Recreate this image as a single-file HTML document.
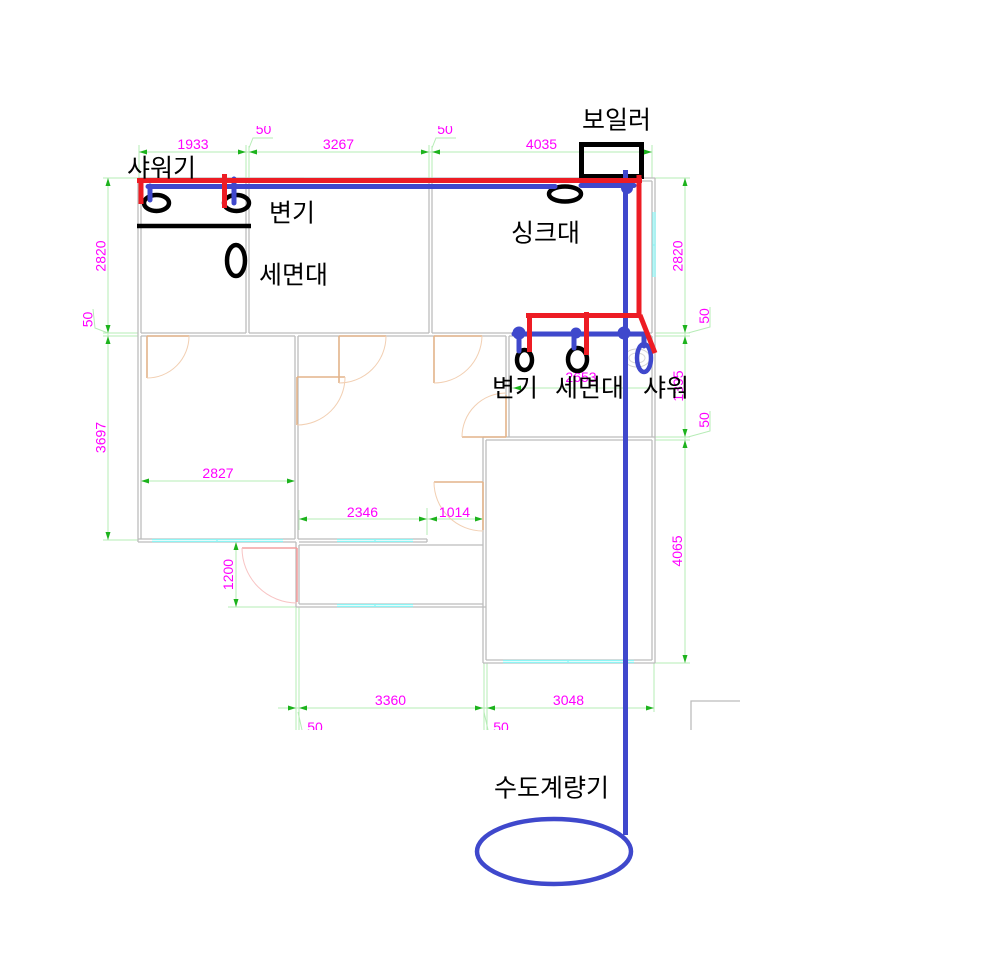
<!DOCTYPE html>
<html><head><meta charset="utf-8">
<style>
html,body{margin:0;padding:0;background:#fff}
svg{display:block}
.m{font-family:"Liberation Sans",Arial,sans-serif;font-size:14px;fill:#ff00ff}
.k{font-family:"Liberation Sans","Noto Sans CJK KR","NanumGothic",sans-serif;font-size:25px;fill:#000}
</style></head>
<body>
<svg width="998" height="969" viewBox="0 0 998 969" xmlns="http://www.w3.org/2000/svg">
<defs>
<clipPath id="c"><rect x="0" y="126" width="745" height="604"/></clipPath>
</defs>
<rect width="998" height="969" fill="#fff"/>
<g clip-path="url(#c)">
<!-- dimension lines -->
<g stroke="#b6ecb6" stroke-width="1" fill="none">
 <path d="M139 152H652 M139 145V178 M246 145V178 M249 146V178 M429 145V178 M432 146V178 M652 145V178"/>
 <path d="M249 148L253 138H273 M432 148L436 138H456"/>
 <path d="M108 178V540 M103 178H138 M103 333H138 M103 336H138 M103 540H138"/>
 <path d="M93 309L95 328L108 333"/>
 <path d="M685 178V663 M655 178H690 M655 333H690 M655 336H690 M655 437H690 M655 440H690 M655 663H690"/>
 <path d="M688 333L710 327V307 M688 437L710 431V411"/>
 <path d="M141 481H295 M141 470V490 M295 470V522"/>
 <path d="M299 519H483 M427 508V535 M299 510V530"/>
 <path d="M236 542V607 M228 607H296 M228 542H240"/>
 <path d="M278 708H654 M296 607V730 M299 607V730 M484 663V730 M487 663V730 M654 663V712"/>
 <path d="M298 712L302 730 M484 712L488 730"/>
 <path d="M510 388H650"/>
</g>
<g fill="#1db31d">
 <polygon points="139,152 147,149.5 147,154.5"/>
 <polygon points="246,152 238,149.5 238,154.5"/>
 <polygon points="249,152 257,149.5 257,154.5"/>
 <polygon points="429,152 421,149.5 421,154.5"/>
 <polygon points="432,152 440,149.5 440,154.5"/>
 <polygon points="652,152 644,149.5 644,154.5"/>
 <polygon points="108,178 105.5,186 110.5,186"/>
 <polygon points="108,333 105.5,325 110.5,325"/>
 <polygon points="108,336 105.5,344 110.5,344"/>
 <polygon points="108,540 105.5,532 110.5,532"/>
 <polygon points="685,178 682.5,186 687.5,186"/>
 <polygon points="685,333 682.5,325 687.5,325"/>
 <polygon points="685,336 682.5,344 687.5,344"/>
 <polygon points="685,437 682.5,429 687.5,429"/>
 <polygon points="685,440 682.5,448 687.5,448"/>
 <polygon points="685,663 682.5,655 687.5,655"/>
 <polygon points="141,481 149,478.5 149,483.5"/>
 <polygon points="295,481 287,478.5 287,483.5"/>
 <polygon points="299,519 307,516.5 307,521.5"/>
 <polygon points="427,519 419,516.5 419,521.5"/>
 <polygon points="429,519 437,516.5 437,521.5"/>
 <polygon points="483,519 475,516.5 475,521.5"/>
 <polygon points="236,542 233.5,550 238.5,550"/>
 <polygon points="236,607 233.5,599 238.5,599"/>
 <polygon points="296,708 288,705.5 288,710.5"/>
 <polygon points="299,708 307,705.5 307,710.5"/>
 <polygon points="483,708 475,705.5 475,710.5"/>
 <polygon points="487,708 495,705.5 495,710.5"/>
 <polygon points="654,708 646,705.5 646,710.5"/>
 <polygon points="513,388 521,385.5 521,390.5"/>
</g>
<!-- walls -->
<g stroke="#bcbcbc" stroke-width="1.3" fill="none">
 <path d="M138 178H655 M138 181H652"/>
 <path d="M138 178V542 M141 181V333 M141 336V539"/>
 <path d="M246 181V333 M249 181V333 M429 181V333 M432 181V333"/>
 <path d="M655 178V663 M652 181V333 M652 336V437 M652 440V660"/>
 <path d="M141 333H246 M249 333H429 M432 333H652 M141 336H295 M298 336H506 M509 336H652"/>
 <path d="M295 336V539 M298 336V539 M296 542V607 M299 545V604"/>
 <path d="M138 539H295 M138 542H296 M298 539H427 M299 542H427 M427 539V542"/>
 <path d="M299 545H483 M296 607H486 M299 604H483"/>
 <path d="M506 336V395 M509 336V437"/>
 <path d="M483 437H655 M486 440H652 M483 437V663 M486 440V660 M483 663H655 M486 660H652"/>
 <path d="M691 730V701H740"/>
</g>
<!-- windows -->
<g stroke="#8ef4f4" stroke-width="1.3" fill="none">
 <path d="M152 539.5H283 M152 541.5H283 M337 539.5H413 M337 541.5H413 M337 604.5H413 M337 606.5H413 M503 660.5H634 M503 662.5H634 M653 212V277 M655 212V277 M304 178.5H379"/>
 <path d="M217 539.5V541.5 M375 539.5V541.5 M375 604.5V606.5 M568 660.5V662.5 M653 245H655"/>
</g>
<path d="M433 178.5H477" stroke="#b8b8f4" stroke-width="1.3"/>
<!-- doors -->
<g fill="none">
 <g stroke="#e3b48a" stroke-width="1.6">
  <path d="M147 336V378 M147 336H189"/>
  <path d="M339 336V383 M339 336H386"/>
  <path d="M434 336V383 M434 336H482"/>
  <path d="M297 377V425 M297 377H345"/>
  <path d="M506 395V437 M462 437H506"/>
  <path d="M483 482V530 M434 482H483"/>
 </g>
 <g stroke="#f2cfb2" stroke-width="1">
  <path d="M147 378A42 42 0 0 0 189 336"/>
  <path d="M339 383A47 47 0 0 0 386 336"/>
  <path d="M434 383A48 48 0 0 0 482 336"/>
  <path d="M297 425A48 48 0 0 0 345 377"/>
  <path d="M462 437A44 44 0 0 1 506 393"/>
  <path d="M434 482A49 49 0 0 0 483 531"/>
 </g>
 <path d="M297 548V602 M242 548H297" stroke="#f4a0a0" stroke-width="1.6"/>
 <path d="M242 548A55 55 0 0 0 297 603" stroke="#f8c4c4" stroke-width="1"/>
 <ellipse cx="637" cy="358" rx="13" ry="9" stroke="#d0d0d0" stroke-width="1"/>
 <ellipse cx="637" cy="358" rx="8" ry="5" stroke="#d8d8d8" stroke-width="1"/>
</g>
<!-- magenta labels -->
<g class="m" text-anchor="middle">
 <text x="193" y="149">1933</text>
 <text x="338.5" y="149">3267</text>
 <text x="541.5" y="149">4035</text>
 <text x="263.5" y="134">50</text>
 <text x="445" y="134">50</text>
 <text x="218" y="478">2827</text>
 <text x="362.5" y="517">2346</text>
 <text x="454.5" y="517">1014</text>
 <text x="390.5" y="705">3360</text>
 <text x="568.5" y="705">3048</text>
 <text x="315" y="732">50</text>
 <text x="501" y="732">50</text>
 <text x="581" y="382">2653</text>
 <text transform="translate(100.5 256) rotate(-90)" dy="5">2820</text>
 <text transform="translate(87.5 319.5) rotate(-90)" dy="5">50</text>
 <text transform="translate(100.5 437.5) rotate(-90)" dy="5">3697</text>
 <text transform="translate(677.5 256) rotate(-90)" dy="5">2820</text>
 <text transform="translate(704 316) rotate(-90)" dy="5">50</text>
 <text transform="translate(678 386) rotate(-90)" dy="5">1395</text>
 <text transform="translate(704 420) rotate(-90)" dy="5">50</text>
 <text transform="translate(677 551) rotate(-90)" dy="5">4065</text>
 <text transform="translate(228 574.5) rotate(-90)" dy="5">1200</text>
</g>
</g>
<!-- fixtures -->
<g fill="none" stroke="#000" stroke-width="4.5">
 <ellipse cx="156.5" cy="203" rx="12.5" ry="8"/>
 <ellipse cx="236.5" cy="203" rx="12.5" ry="8"/>
 <ellipse cx="236" cy="260.5" rx="9" ry="15.5"/>
 <ellipse cx="565" cy="194" rx="16" ry="7.5"/>
 <ellipse cx="524.5" cy="360" rx="7.5" ry="10"/>
 <ellipse cx="577.5" cy="359.5" rx="9.5" ry="11.5"/>
 <path d="M137 226H251"/>
 <rect x="581.5" y="144.5" width="60" height="32" stroke-width="5"/>
</g>
<!-- blue pipes -->
<g fill="none" stroke="#3f48cc" stroke-width="5" stroke-linecap="round">
 <path d="M148 186.5H555"/>
 <path d="M581 185.5H634"/>
 <path d="M150 186V200"/>
 <path d="M234 179V203"/>
 <path d="M625.5 170V835" stroke-linecap="butt"/>
 <path d="M514 334H645"/>
 <path d="M644 334V346"/>
 <path d="M519 333V351"/>
 <path d="M574 333V348"/>
 <ellipse cx="644" cy="358" rx="7" ry="14" stroke-width="4.5"/>
 <ellipse cx="554" cy="851.5" rx="77" ry="32.5" stroke-width="4.5"/>
</g>
<g fill="#3f48cc">
 <circle cx="627" cy="188" r="6"/>
 <circle cx="519" cy="333" r="6.5"/>
 <circle cx="576" cy="333" r="5.5"/>
 <circle cx="624" cy="333" r="6.5"/>
</g>
<!-- red pipes -->
<g fill="none" stroke="#ed1c24" stroke-width="5">
 <path d="M137 180.5H642"/>
 <path d="M141 180V204"/>
 <path d="M224.5 174V208"/>
 <path d="M639 175V316"/>
 <path d="M526 315.5H641"/>
 <path d="M529.5 315V352"/>
 <path d="M586.5 312V355"/>
 <path d="M640 315L655 353"/>
</g>
<!-- korean labels -->
<g class="k">
 <text x="127" y="176.5">샤워기</text>
 <text x="269" y="221.5">변기</text>
 <text x="259" y="283.5">세면대</text>
 <text x="582" y="128.5">보일러</text>
 <text x="511" y="241.5">싱크대</text>
 <text x="492" y="396.5">변기</text>
 <text x="555" y="396.5">세면대</text>
 <text x="643" y="396.5">샤워</text>
 <text x="494" y="796.5">수도계량기</text>
</g>
</svg>
</body></html>
